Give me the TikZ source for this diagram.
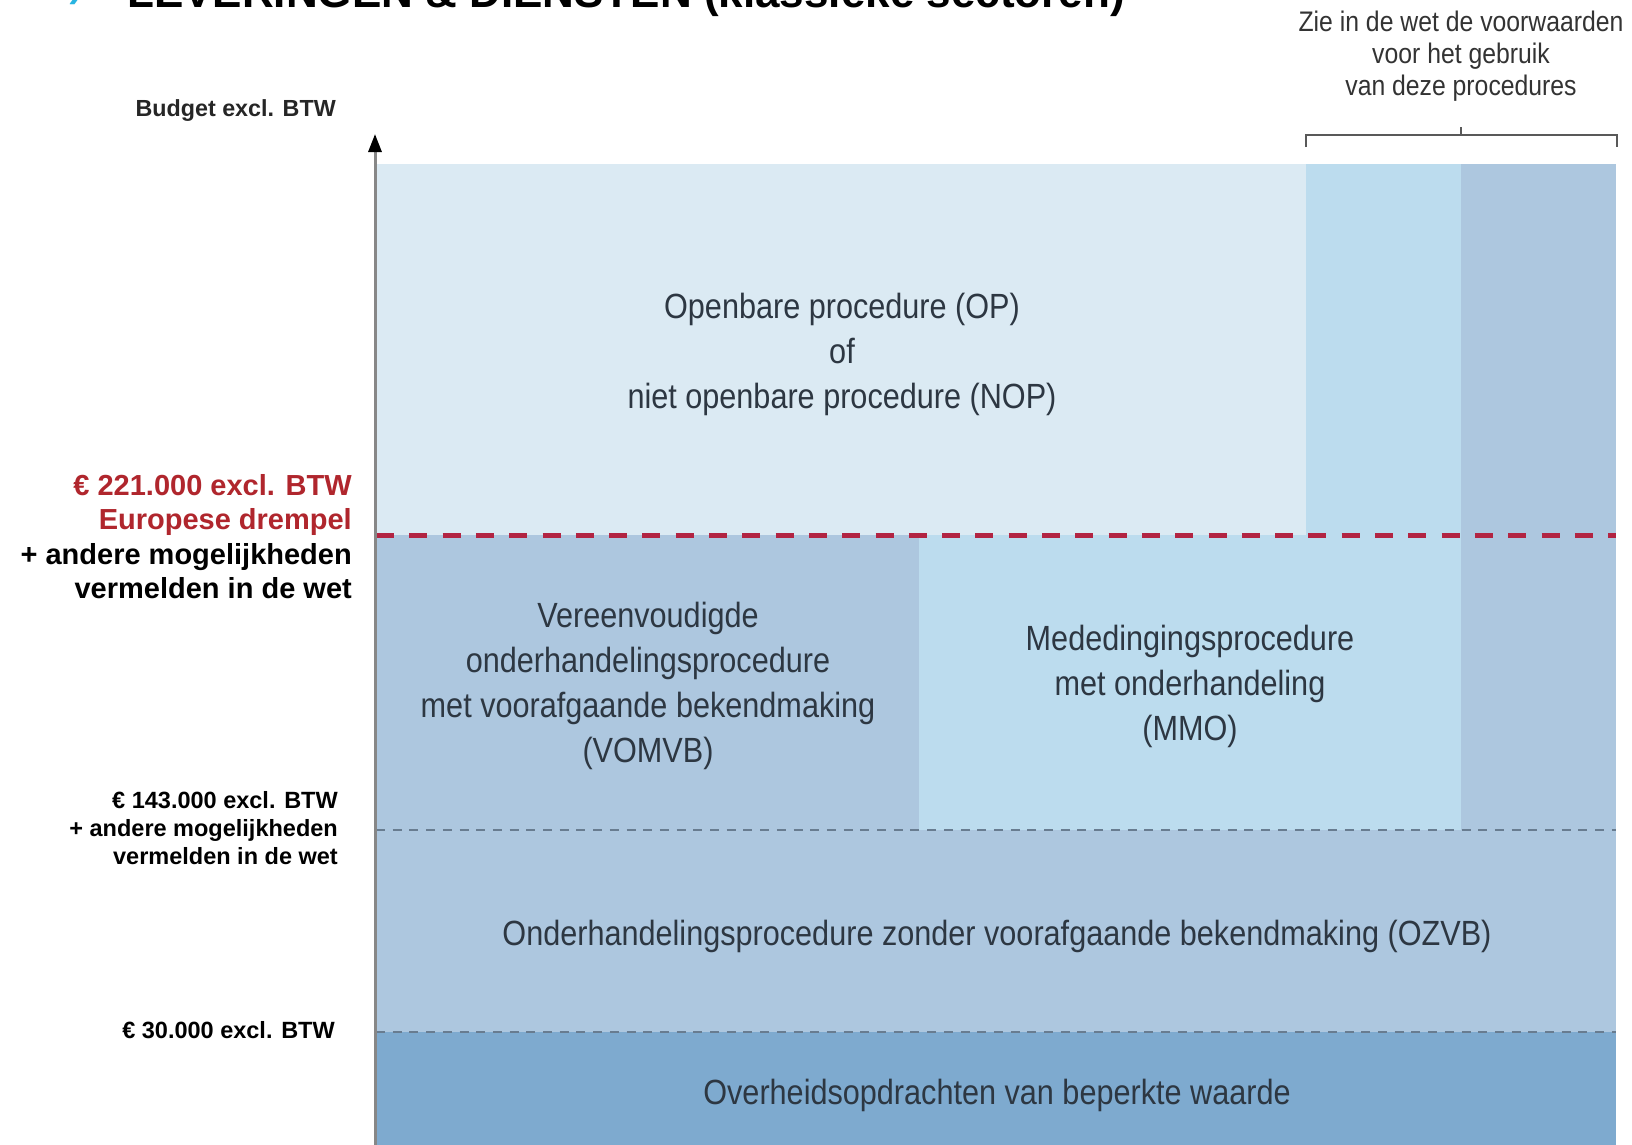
\documentclass[tikz,border=0pt]{standalone}
\usepackage{fontspec}
\setmainfont{Liberation Sans}
\newfontfamily\condfont[FakeStretch=0.875]{Liberation Sans}
\usetikzlibrary{arrows.meta}
\definecolor{opbg}{RGB}{219,234,243}
\definecolor{skybg}{RGB}{188,220,238}
\definecolor{midbg}{RGB}{173,199,223}
\definecolor{botbg}{RGB}{126,170,207}
\definecolor{eured}{RGB}{176,38,45}
\definecolor{dashred}{RGB}{178,36,66}
\definecolor{dashgrey}{RGB}{104,124,144}
\definecolor{charttext}{RGB}{45,55,66}
\definecolor{axisgrey}{RGB}{135,135,135}
\definecolor{bulletcyan}{RGB}{40,180,225}
\tikzset{
  proc/.style={inner sep=0pt, align=center, text=charttext, font=\condfont\fontsize{35}{45}\selectfont},
  note/.style={inner sep=0pt, align=center, text=black!80, font=\condfont\fontsize{28.3}{32}\selectfont},
  biglabel/.style={inner sep=0pt, align=right, font=\bfseries\fontsize{29}{34.5}\selectfont},
  smalllabel/.style={inner sep=0pt, align=right, font=\bfseries\fontsize{23.5}{28}\selectfont},
  greydash/.style={dashgrey, line width=2pt, dash pattern=on 9pt off 7.7pt},
  reddash/.style={dashred, line width=5pt, dash pattern=on 18pt off 15.3pt},
}
\begin{document}
\begin{tikzpicture}[x=1pt,y=-1pt]
\clip (0,0) rectangle (1632,1145);
\fill[white] (0,0) rectangle (1632,1145);
% title (cut off at top, as in the reference)
\node[inner sep=0pt, anchor=base west, font=\bfseries\fontsize{44}{50}\selectfont] (title) at (127,8) {LEVERINGEN \& DIENSTEN (klassieke sectoren)};
\node[inner sep=0pt, anchor=base west, text=bulletcyan, font=\bfseries\fontsize{40}{44}\selectfont] (bullet) at (68,8) {›};
% regions
\fill[opbg] (376,164) rectangle (1306,535);
\fill[skybg] (1306,164) rectangle (1461,830);
\fill[midbg] (1461,164) rectangle (1616,830);
\fill[midbg] (376,535) rectangle (919,830);
\fill[skybg] (919,535) rectangle (1306,830);
\fill[midbg] (376,830) rectangle (1616,1032);
\fill[botbg] (376,1032) rectangle (1616,1145);
% threshold lines
\draw[reddash] (376,535) -- (1616,535);
\draw[greydash] (376,830) -- (1616,830);
\draw[greydash] (376,1032) -- (1616,1032);
% axis
\draw[axisgrey, line width=3pt, -{Triangle[length=18pt,width=13pt,color=black]}] (375,1145) -- (375,134);
% bracket
\draw[black!65, line width=2pt] (1306,147) -- (1306,135) -- (1617,135) -- (1617,147);
\draw[black!65, line width=1.5pt] (1461,135) -- (1461,127);
% texts in chart
\node[proc] (op) at (842,354) {Openbare procedure (OP)\\of\\niet openbare procedure (NOP)};
\node[proc] (vomvb) at (648,686) {Vereenvoudigde\\onderhandelingsprocedure\\met voorafgaande bekendmaking\\(VOMVB)};
\node[proc] (mmo) at (1190,686) {Mededingingsprocedure\\met onderhandeling\\(MMO)};
\node[proc] (ozvb) at (997,936) {Onderhandelingsprocedure zonder voorafgaande bekendmaking (OZVB)};
\node[proc] (beperkt) at (997,1095) {Overheidsopdrachten van beperkte waarde};
\node[note] (wet) at (1461,56) {Zie in de wet de voorwaarden\\voor het gebruik\\van deze procedures};
% left labels
\node[inner sep=0pt, anchor=base east, text=black!85, font=\bfseries\fontsize{23.3}{28}\selectfont] (budget) at (336,117) {Budget excl. BTW};
\node[biglabel, anchor=north east] (eu) at (352,474) {\textcolor{eured}{€ 221.000 excl. BTW}\\\textcolor{eured}{Europese drempel}\\+ andere mogelijkheden\\vermelden in de wet};
\node[smalllabel, anchor=north east] (t143) at (338,791) {€ 143.000 excl. BTW\\+ andere mogelijkheden\\vermelden in de wet};
\node[inner sep=0pt, anchor=base east, font=\bfseries\fontsize{23.5}{28}\selectfont] (t30) at (335,1038) {€ 30.000 excl. BTW};
\end{tikzpicture}
\end{document}
